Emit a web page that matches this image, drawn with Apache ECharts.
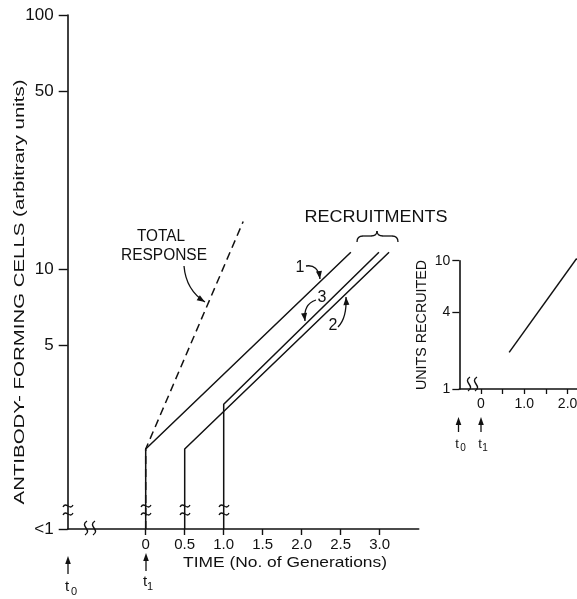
<!DOCTYPE html>
<html>
<head>
<meta charset="utf-8">
<title>Recruitments</title>
<script src="https://cdn.jsdelivr.net/npm/echarts@6.0.0/dist/echarts.min.js"></script>
<style>
html,body{margin:0;padding:0;background:#fff;}
#main{width:577px;height:599px;}
</style>
</head>
<body>
<div id="main"></div>
<script>
// main panel: antibody-forming cells (log) against time in generations
var yMin = 0.95;                                   // the "<1" level
var yTicks = [0.95, 5, 10, 50, 100];
var yTickLabels = ['<1', '5', '10', '50', '100'];
var xTicks = [0, 0.5, 1, 1.5, 2, 2.5, 3];

var totalTime = [0, 0, 1.25];
var totalCells = [0.95, 1.96, 15.4];
var rec1Time = [0, 0, 2.63];
var rec1Cells = [0.95, 1.96, 11.66];
var rec2Time = [0.5, 0.5, 3.12];
var rec2Cells = [0.95, 1.96, 11.66];
var rec3Time = [1, 1, 2.99];
var rec3Cells = [0.95, 2.94, 11.66];

// inset: units recruited
var insetYTicks = [1, 4, 10];
var insetXTicks = [0, 0.5, 1, 1.5, 2, 2.5, 3];
var insetXLabels = [0, 1, 2, 3];
var unitsTime = [0.65, 2.21];
var unitsRecruited = [1.93, 10.4];

var family = '"Liberation Sans", Arial, sans-serif';
var ink = '#111';

function pairs(xs, ys){
	return xs.map(function(x, i){ return [x, ys[i]]; });
}

var measure = document.createElement('canvas').getContext('2d');
function label(s, x, y, size, width, rot){
	measure.font = size + 'px ' + family;
	var sx = width ? width / measure.measureText(s).width : 1;
	return {type: 'text', x: x, y: y, rotation: rot || 0, scaleX: sx, z: 10,
		style: {text: s, fontSize: size, fontFamily: family, fill: ink, align: 'center', verticalAlign: 'middle'}};
}
function head(x, y, fx, fy, len, w){
	var a = Math.atan2(y - fy, x - fx);
	var bx = x - len * Math.cos(a), by = y - len * Math.sin(a);
	var nx = -Math.sin(a) * w, ny = Math.cos(a) * w;
	return {type: 'polygon', z: 10, shape: {points: [[x, y], [bx + nx, by + ny], [bx - nx, by - ny]]}, style: {fill: ink}};
}
function quad(x1, y1, cx, cy, x2, y2, w){
	return {type: 'bezierCurve', z: 10, shape: {x1: x1, y1: y1, cpx1: cx, cpy1: cy, x2: x2, y2: y2},
		style: {stroke: ink, lineWidth: w || 1.3, fill: null}};
}
function seg(x1, y1, x2, y2, w){
	return {type: 'line', z: 10, shape: {x1: x1, y1: y1, x2: x2, y2: y2}, style: {stroke: ink, lineWidth: w || 1.3}};
}
function curved(x1, y1, cx, cy, x2, y2){
	return [quad(x1, y1, cx, cy, x2, y2), head(x2, y2, cx, cy, 8, 3)];
}
function upArrow(x, tip, end){
	return [seg(x, tip + 5, x, end), head(x, tip, x, end, 8, 2.8)];
}
function tilde(cx, cy){          // horizontal ~
	return {type: 'bezierCurve', z: 10, shape: {x1: cx - 5, y1: cy + 1, cpx1: cx - 2, cpy1: cy - 5, cpx2: cx + 2, cpy2: cy + 5, x2: cx + 5, y2: cy - 1},
		style: {stroke: ink, lineWidth: 1.3, fill: null}};
}
function vtilde(cx, cy){         // vertical ~ for the axis breaks
	return {type: 'bezierCurve', z: 10, shape: {x1: cx + 1, y1: cy - 7, cpx1: cx - 7, cpy1: cy - 2, cpx2: cx + 7, cpy2: cy + 2, x2: cx - 1, y2: cy + 7},
		style: {stroke: ink, lineWidth: 1.4, fill: null}};
}
function breakMark(x){
	return [tilde(x, 506), tilde(x, 514)];
}

var g = [];
g.push(label('ANTIBODY- FORMING CELLS (arbitrary units)', 20, 292, 15, 425, Math.PI / 2));
g.push(label('TIME (No. of Generations)', 285, 563, 15, 204));
g.push(label('UNITS RECRUITED', 422, 325, 14, 130, Math.PI / 2));
g.push(label('TOTAL', 161, 237, 16, 48));
g.push(label('RESPONSE', 164, 256, 16, 86));
g.push(label('RECRUITMENTS', 376, 218, 16, 143));
g.push(label('1', 300, 268, 16));
g.push(label('3', 322, 298, 16));
g.push(label('2', 333, 326, 16));
// brace over the recruitment lines
g.push(quad(357, 242, 357, 236, 363, 236), seg(363, 236, 371, 236), quad(371, 236, 377, 236, 377, 231),
	quad(377, 231, 377, 236, 383, 236), seg(383, 236, 392, 236), quad(392, 236, 398, 236, 398, 242));
g = g.concat(curved(184, 266, 186, 290, 205, 302));
g = g.concat(curved(306, 266, 318, 264, 320, 279));
g = g.concat(curved(316, 300, 303, 304, 305, 321));
g = g.concat(curved(338, 327, 347, 318, 346, 297));
// breaks
g = g.concat(breakMark(68), breakMark(146), breakMark(185), breakMark(224));
g.push(vtilde(86, 528), vtilde(94, 528));
g.push(vtilde(469, 384), vtilde(476, 384));
// t0 / t1 markers
g = g.concat(upArrow(68, 556, 574), upArrow(146, 553, 571));
g.push(label('t', 67, 587, 15), label('0', 74, 592, 11));
g.push(label('t', 145, 582, 15), label('1', 150, 587, 11));
g = g.concat(upArrow(458.5, 417, 432), upArrow(481, 417, 432));
g.push(label('t', 457, 444, 13), label('0', 463, 448, 10));
g.push(label('t', 480, 444, 13), label('1', 485, 448, 10));

function lineSeries(data, xi, dashed){
	return {type: 'line', xAxisIndex: xi, yAxisIndex: xi, data: data, symbol: 'none', clip: false,
		lineStyle: {color: ink, width: 1.5, type: dashed ? [8, 5] : 'solid'}};
}

var axisLine = {onZero: false, lineStyle: {color: ink, width: 1.6}};

var myChart = echarts.init(document.getElementById('main'));
var option = {
	backgroundColor: '#fff',
	animation: false,
	grid: [
		{left: 67.7, right: 158.3, top: 15, bottom: 70, containLabel: false, outerBoundsMode: 'none'},
		{left: 459.35, right: -55.55, top: 260.7, bottom: 210, containLabel: false, outerBoundsMode: 'none'}
	],
	xAxis: [
		{gridIndex: 0, type: 'value', min: -1, max: 3.5, splitLine: {show: false}, axisLine: axisLine,
			axisTick: {customValues: xTicks, length: 6, lineStyle: {color: ink, width: 1.4}},
			axisLabel: {customValues: xTicks, margin: 8, color: ink, fontSize: 15, fontFamily: family,
				formatter: function(v){ return v === 0 ? '0' : v.toFixed(1); }}},
		{gridIndex: 1, type: 'value', min: -0.5, max: 3.5, splitLine: {show: false}, axisLine: axisLine,
			axisTick: {customValues: insetXTicks, length: 5, lineStyle: {color: ink, width: 1.3}},
			axisLabel: {customValues: insetXLabels, margin: 8, color: ink, fontSize: 14, fontFamily: family,
				formatter: function(v){ return v === 0 ? '0' : v.toFixed(1); }}}
	],
	yAxis: [
		{gridIndex: 0, type: 'log', logBase: 10, min: yMin, max: 100, splitLine: {show: false}, axisLine: axisLine,
			axisTick: {customValues: yTicks, length: 9, lineStyle: {color: ink, width: 1.4}},
			axisLabel: {customValues: yTicks, margin: 14, color: ink, fontSize: 17, fontFamily: family,
				formatter: function(v){
					var best = 0;
					yTicks.forEach(function(t, i){ if (Math.abs(t - v) < Math.abs(yTicks[best] - v)) best = i; });
					return yTickLabels[best];
				}}},
		{gridIndex: 1, type: 'log', logBase: 10, min: 1, max: 10, splitLine: {show: false}, axisLine: axisLine,
			axisTick: {customValues: insetYTicks, length: 7, lineStyle: {color: ink, width: 1.3}},
			axisLabel: {customValues: insetYTicks, margin: 9, color: ink, fontSize: 14, fontFamily: family}}
	],
	series: [
		lineSeries(pairs(totalTime, totalCells), 0, true),
		lineSeries(pairs(rec1Time, rec1Cells), 0),
		lineSeries(pairs(rec2Time, rec2Cells), 0),
		lineSeries(pairs(rec3Time, rec3Cells), 0),
		lineSeries(pairs(unitsTime, unitsRecruited), 1)
	],
	graphic: g
};
myChart.setOption(option);
</script>
</body>
</html>
